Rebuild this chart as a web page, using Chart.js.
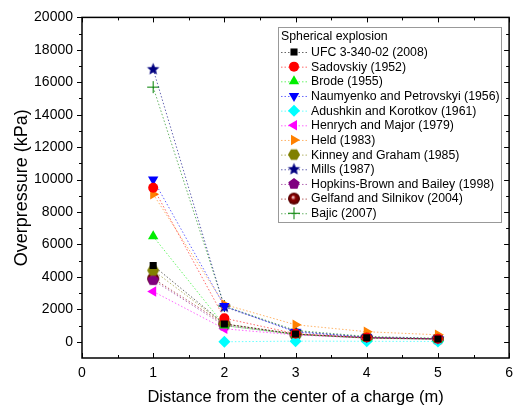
<!DOCTYPE html>
<html>
<head>
<meta charset="utf-8">
<script src="https://cdn.jsdelivr.net/npm/chart.js@4/dist/chart.umd.min.js"></script>
<style>
  html, body { margin: 0; padding: 0; background: #fff; }
  #wrap { width: 520px; height: 409px; }
</style>
</head>
<body>
<div id="wrap"><canvas id="c" width="520" height="409"></canvas></div>
<script>
// distances (m)
const distances = [1, 2, 3, 4, 5];
const xTicks = [0, 1, 2, 3, 4, 5, 6];
const yTicks = [0, 2000, 4000, 6000, 8000, 10000, 12000, 14000, 16000, 18000, 20000];

// overpressure (kPa) per source
const ufc       = [4700, 1100, 480, 250, 170];
const sadovskiy = [9500, 1450, 500, 260, 180];
const brode     = [6500, 1000, 450, 220, 150];
const naumyenko = [10000, 2200, 600, 280, 190];
const adushkin  = [null, 0, 40, 30, 20];
const henrych   = [3100, 800, 420, 230, 160];
const held      = [9100, 2300, 1050, 620, 430];
const kinney    = [4400, 1100, 470, 240, 170];
const mills     = [16800, 2150, 650, 280, 190];
const hopkins   = [3800, 1000, 450, 230, 160];
const gelfand   = [3900, 1100, 460, 240, 170];
const bajic     = [15700, 2200, 700, 330, 220];

const FONT = '"Liberation Sans", Arial, sans-serif';

// custom markers
function polyMarker(color, sides, r, rot, inner) {
    const s = 2 * r + 4;
    const cv = document.createElement('canvas');
    cv.width = s; cv.height = s;
    const g = cv.getContext('2d');
    g.fillStyle = color;
    g.beginPath();
    const n = inner ? sides * 2 : sides;
    for (let i = 0; i < n; i++) {
        const a = rot + i * Math.PI * 2 / n;
        const rr = inner && i % 2 ? r * inner : r;
        const px = s / 2 + rr * Math.cos(a), py = s / 2 + rr * Math.sin(a);
        i ? g.lineTo(px, py) : g.moveTo(px, py);
    }
    g.closePath();
    g.fill();
    return cv;
}
function sphereMarker(color, r) {
    const s = 2 * r + 2;
    const cv = document.createElement('canvas');
    cv.width = s; cv.height = s;
    const g = cv.getContext('2d');
    const grad = g.createRadialGradient(s / 2 - 1, s / 2 - 1.5, 0.5, s / 2, s / 2, r);
    grad.addColorStop(0, '#f0c0c0');
    grad.addColorStop(0.35, color);
    grad.addColorStop(1, '#500000');
    g.fillStyle = grad;
    g.beginPath();
    g.arc(s / 2, s / 2, r, 0, Math.PI * 2);
    g.fill();
    return cv;
}
const starImg = polyMarker('#000080', 5, 6.5, -Math.PI / 2, 0.45);
const pentImg = polyMarker('#800080', 5, 6, -Math.PI / 2);
const hexImg = polyMarker('#808000', 6, 6, 0);
const sphereImg = sphereMarker('#8b0000', 6);

function fade(hex) {
    const n = parseInt(hex.slice(1), 16);
    return 'rgba(' + (n >> 16) + ',' + ((n >> 8) & 255) + ',' + (n & 255) + ',0.6)';
}

function series(label, data, color, pointStyle, rotation, radius) {
    return {
        label: label,
        data: data.map((v, i) => ({ x: distances[i], y: v })),
        borderColor: fade(color),
        backgroundColor: color,
        borderWidth: 1,
        borderDash: [1.5, 2],
        pointStyle: pointStyle,
        rotation: rotation || 0,
        pointRadius: radius || 5,
        pointBorderWidth: pointStyle === 'cross' ? 1 : 0,
        pointBorderColor: color,
        spanGaps: false
    };
}

const datasets = [
    series('UFC 3-340-02 (2008)', ufc, '#000000', 'rect', 0, 5),
    series('Sadovskiy (1952)', sadovskiy, '#ff0000', 'circle', 0, 5),
    series('Brode (1955)', brode, '#00ee00', 'triangle', 0, 6),
    series('Naumyenko and Petrovskyi (1956)', naumyenko, '#0000ff', 'triangle', 180, 6),
    series('Adushkin and Korotkov (1961)', adushkin, '#00ffff', 'rectRot', 0, 6),
    series('Henrych and Major (1979)', henrych, '#ff00ff', 'triangle', -90, 6),
    series('Held (1983)', held, '#ff8000', 'triangle', 90, 6),
    series('Kinney and Graham (1985)', kinney, '#808000', hexImg),
    series('Mills (1987)', mills, '#000080', starImg),
    series('Hopkins-Brown and Bailey (1998)', hopkins, '#800080', pentImg),
    series('Gelfand and Silnikov (2004)', gelfand, '#8b0000', sphereImg),
    series('Bajic (2007)', bajic, '#008000', 'cross', 0, 6)
];

// frame, ticks and legend box
const framePlugin = {
    id: 'frame',
    afterDraw(chart) {
        const ctx = chart.ctx;
        const a = chart.chartArea;
        const xs = chart.scales.x, ys = chart.scales.y;
        ctx.save();
        ctx.strokeStyle = '#000';
        ctx.lineWidth = 1.5;
        ctx.strokeRect(a.left, a.top, a.right - a.left, a.bottom - a.top);
        ctx.lineWidth = 1;
        ctx.beginPath();
        for (let v = 0; v <= 6; v += 0.5) {
            const px = Math.round(xs.getPixelForValue(v)) + 0.5;
            const len = v % 1 === 0 ? 5 : 3;
            ctx.moveTo(px, a.bottom); ctx.lineTo(px, a.bottom - len);
            ctx.moveTo(px, a.top); ctx.lineTo(px, a.top + len);
        }
        for (let v = 0; v <= 20000; v += 1000) {
            const py = Math.round(ys.getPixelForValue(v)) + 0.5;
            const len = v % 2000 === 0 ? 5 : 3;
            ctx.moveTo(a.left, py); ctx.lineTo(a.left - len, py);
            ctx.moveTo(a.right, py); ctx.lineTo(a.right - len, py);
        }
        ctx.stroke();

        // legend
        const lx = 278, ly = 27, lw = 223, lh = 195, row = 14.66;
        ctx.fillStyle = '#fff';
        ctx.fillRect(lx, ly, lw, lh);
        ctx.strokeStyle = '#999';
        ctx.strokeRect(lx + 0.5, ly + 0.5, lw, lh);
        ctx.fillStyle = '#000';
        ctx.font = '12.3px ' + FONT;
        ctx.textBaseline = 'middle';
        ctx.fillText('Spherical explosion', lx + 3, ly + 10);
        chart.data.datasets.forEach((ds, i) => {
            const cy = ly + 25 + i * row;
            ctx.save();
            ctx.strokeStyle = ds.borderColor;
            ctx.lineWidth = 1;
            ctx.setLineDash([1.5, 2]);
            ctx.beginPath();
            ctx.moveTo(lx + 3, cy + 0.5); ctx.lineTo(lx + 30, cy + 0.5);
            ctx.stroke();
            ctx.restore();
            ctx.fillStyle = ds.backgroundColor;
            ctx.strokeStyle = ds.pointBorderColor;
            ctx.lineWidth = ds.pointBorderWidth || 0.01;
            Chart.helpers.drawPoint(ctx, {
                pointStyle: ds.pointStyle,
                rotation: ds.rotation,
                radius: ds.pointRadius,
                borderWidth: ds.pointBorderWidth
            }, lx + 16, cy);
            ctx.fillStyle = '#000';
            ctx.fillText(ds.label, lx + 33, cy + 0.5);
        });
        ctx.restore();
    }
};

new Chart(document.getElementById('c'), {
    type: 'line',
    data: { datasets: datasets },
    options: {
        responsive: false,
        animation: false,
        layout: { padding: { top: 15, right: 7, left: 0, bottom: 0 } },
        plugins: { legend: { display: false }, tooltip: { enabled: false } },
        scales: {
            x: {
                type: 'linear',
                min: 0, max: 6,
                afterBuildTicks: s => { s.ticks = xTicks.map(v => ({ value: v })); },
                afterFit: s => { s.height = 51; },
                grid: { display: false, drawTicks: false },
                border: { display: false },
                ticks: { color: '#000', padding: 7, font: { family: FONT, size: 14 }, callback: v => String(v) },
                title: {
                    display: true,
                    text: 'Distance from the center of a charge (m)',
                    color: '#000',
                    padding: { top: 0, bottom: 2 },
                    font: { family: FONT, size: 16.5 }
                }
            },
            y: {
                min: -1000, max: 20000,
                afterBuildTicks: s => { s.ticks = yTicks.map(v => ({ value: v })); },
                afterFit: s => { s.width = 82; },
                grid: { display: false, drawTicks: false },
                border: { display: false },
                ticks: { color: '#000', padding: 9, font: { family: FONT, size: 14 }, callback: v => String(v) },
                title: {
                    display: true,
                    text: 'Overpressure (kPa)',
                    color: '#000',
                    padding: { top: 11, bottom: 0 },
                    font: { family: FONT, size: 18 }
                }
            }
        }
    },
    plugins: [framePlugin]
});
</script>
</body>
</html>
